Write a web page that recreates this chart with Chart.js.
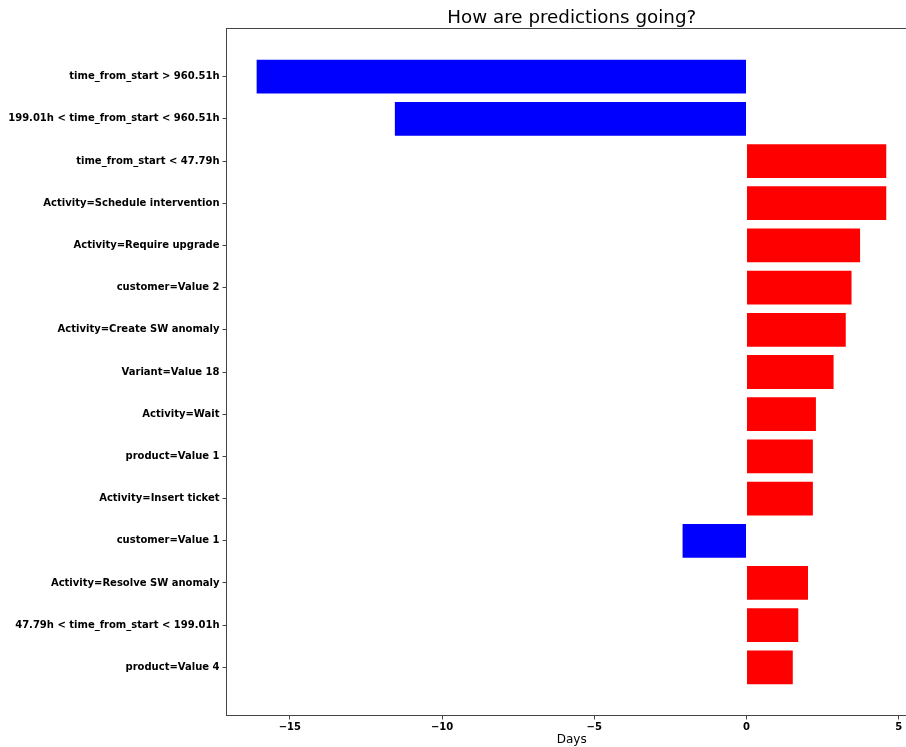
<!DOCTYPE html>
<html>
<head>
<meta charset="utf-8">
<script src="https://cdn.jsdelivr.net/npm/chart.js@4"></script>
<style>
  html, body { margin: 0; padding: 0; overflow: hidden; background: #fff; }
  #wrap { width: 917px; height: 747px; }
</style>
</head>
<body>
<div id="wrap"><canvas id="predChart" width="917" height="747"></canvas></div>
<script>
// 特徴量ラベル（上から順）
const featureLabels = [
  "time_from_start > 960.51h",
  "199.01h < time_from_start < 960.51h",
  "time_from_start < 47.79h",
  "Activity=Schedule intervention",
  "Activity=Require upgrade",
  "customer=Value 2",
  "Activity=Create SW anomaly",
  "Variant=Value 18",
  "Activity=Wait",
  "product=Value 1",
  "Activity=Insert ticket",
  "customer=Value 1",
  "Activity=Resolve SW anomaly",
  "47.79h < time_from_start < 199.01h",
  "product=Value 4",
];

// 各特徴量の影響（日）
const dayValues = [-16.09, -11.55, 4.59, 4.59, 3.73, 3.45, 3.26, 2.86, 2.28, 2.18, 2.18, -2.10, 2.02, 1.70, 1.52];

const xTickValues = [-15, -10, -5, 0, 5];

const chartTitle = "How are predictions going?";
const axisColor = "#444";

// タイトルと上・右の枠線を描くプラグイン
const framePlugin = {
  id: "frame",
  afterDraw(chart) {
    const { ctx, chartArea } = chart;
    ctx.save();
    ctx.strokeStyle = axisColor;
    ctx.lineWidth = 1;
    ctx.beginPath();
    ctx.moveTo(chartArea.left, chartArea.top);
    ctx.lineTo(chartArea.right, chartArea.top);
    ctx.lineTo(chartArea.right, chartArea.bottom);
    ctx.stroke();
    ctx.fillStyle = "#000";
    ctx.font = "18.3px 'DejaVu Sans'";
    ctx.textAlign = "center";
    ctx.textBaseline = "middle";
    ctx.fillText(chartTitle, (chartArea.left + chartArea.right) / 2, 18);
    ctx.restore();
  },
};

const predChartConfig = {
  type: "bar",
  data: {
    datasets: [
      {
        data: dayValues.map((v, i) => ({ x: v, y: i })),
        backgroundColor: dayValues.map((v) => (v < 0 ? "#0000ff" : "#ff0000")),
        borderWidth: 0,
        barPercentage: 0.8,
        categoryPercentage: 1,
      },
    ],
  },
  options: {
    indexAxis: "y",
    responsive: false,
    animation: false,
    layout: { padding: { top: 28.5, left: 0, right: 0, bottom: 0 } },
    plugins: {
      legend: { display: false },
      title: { display: false },
      tooltip: { enabled: false },
    },
    scales: {
      x: {
        type: "linear",
        min: -17.08,
        max: 5.6,
        afterFit(scale) {
          scale.height = 31.5;
        },
        afterBuildTicks(scale) {
          scale.ticks = xTickValues.map((v) => ({ value: v }));
        },
        ticks: {
          color: "#000",
          font: { family: "DejaVu Sans", size: 10, weight: "bold" },
          padding: 2,
          callback: (v) => (v < 0 ? "\u2212" + Math.abs(v) : String(v)),
        },
        grid: { drawOnChartArea: false, tickLength: 4, color: axisColor },
        border: { display: true, color: axisColor, width: 1 },
        title: {
          display: true,
          text: "Days",
          color: "#000",
          font: { family: "DejaVu Sans", size: 12 },
          padding: { top: 0, bottom: 0 },
        },
      },
      y: {
        type: "linear",
        reverse: true,
        offset: false,
        min: -1.14,
        max: 15.14,
        afterFit(scale) {
          scale.width = 226.5;
        },
        afterBuildTicks(scale) {
          scale.ticks = featureLabels.map((_, i) => ({ value: i }));
        },
        ticks: {
          color: "#000",
          font: { family: "DejaVu Sans", size: 10, weight: "bold" },
          padding: 3,
          autoSkip: false,
          callback: (v) => featureLabels[v] || "",
        },
        grid: { drawOnChartArea: false, offset: false, tickLength: 4, color: axisColor },
        border: { display: true, color: axisColor, width: 1 },
      },
    },
  },
  plugins: [framePlugin],
};

document.addEventListener("DOMContentLoaded", () => {
  const predChart = new Chart("predChart", predChartConfig);
});
</script>
</body>
</html>
